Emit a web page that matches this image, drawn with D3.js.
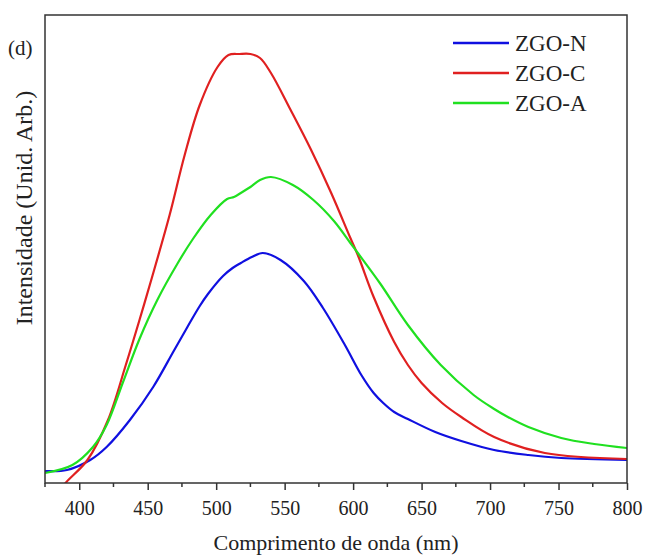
<!DOCTYPE html>
<html>
<head>
<meta charset="utf-8">
<script src="https://cdn.jsdelivr.net/npm/d3@7"></script>
<style>
  body { margin: 0; background: #fff; }
  text { font-family: "Liberation Serif", "Times New Roman", serif; fill: #222; }
</style>
</head>
<body>
<script>
// wavelength (nm) / intensity (arb. units)
const wlN = [375, 391, 408, 420, 437, 454, 469, 479, 488, 494, 505, 512, 518, 526, 534, 547, 564, 578, 594, 606, 615, 622, 630, 640, 660, 679, 703, 728, 752, 800];
const ZGO_N = [12, 13, 23, 36, 63, 96, 132, 156, 177, 189, 207, 215, 220, 226, 230, 223, 202, 175, 138, 108, 90, 80, 71, 64, 51, 42, 33, 28, 25, 23];

const wlC = [386, 390, 406, 421, 434, 444, 453, 466, 477, 488, 501, 509, 517, 525, 532, 540, 554, 569, 584, 598, 604, 615, 630, 640, 650, 665, 679, 703, 740, 800];
const ZGO_C = [-8, 0, 23, 63, 118, 163, 205, 268, 328, 378, 416, 428, 429, 429, 425, 410, 374, 334, 290, 245, 226, 186, 141, 118, 100, 80, 66, 46, 30, 24];

const wlA = [375, 395, 410, 420, 432, 444, 457, 472, 483, 496, 508, 513, 518, 525, 532, 540, 556, 571, 586, 598, 604, 620, 640, 664, 688, 703, 713, 728, 752, 776, 800];
const ZGO_A = [10, 18, 36, 58, 101, 144, 183, 220, 244, 268, 284, 286, 290, 296, 303, 306, 298, 283, 262, 240, 229, 199, 158, 118, 88, 74, 66, 56, 45, 39, 35];

const seriesNames = ["ZGO-N", "ZGO-C", "ZGO-A"];
const colors = ["#1010e0", "#e02020", "#20e020"];
const xTicks = [400, 450, 500, 550, 600, 650, 700, 750, 800];

const W = 646, H = 557;
const m = { left: 45, right: 19, top: 15, bottom: 74 };
const svg = d3.select("body").append("svg").attr("width", W).attr("height", H);

const x = d3.scaleLinear().domain([375, 800]).range([m.left, W - m.right]);
const y = d3.scaleLinear().domain([0, 468]).range([H - m.bottom, m.top]);

svg.append("clipPath").attr("id", "clip").append("rect")
    .attr("x", m.left).attr("y", m.top)
    .attr("width", W - m.left - m.right).attr("height", H - m.top - m.bottom);

const line = d3.line().x(d => x(d[0])).y(d => y(d[1])).curve(d3.curveCatmullRom.alpha(0.5));

const series = [
    d3.zip(wlN, ZGO_N),
    d3.zip(wlC, ZGO_C),
    d3.zip(wlA, ZGO_A)
];

const g = svg.append("g").attr("clip-path", "url(#clip)");
series.forEach((s, i) => {
    g.append("path").datum(s)
        .attr("d", line)
        .attr("fill", "none")
        .attr("stroke", colors[i])
        .attr("stroke-width", 2.2);
});

// frame
svg.append("rect")
    .attr("x", m.left).attr("y", m.top)
    .attr("width", W - m.left - m.right).attr("height", H - m.top - m.bottom)
    .attr("fill", "none").attr("stroke", "#333").attr("stroke-width", 1.5);

// bottom axis: major + minor ticks
const xAxis = svg.append("g").attr("transform", `translate(0,${H - m.bottom})`)
    .call(d3.axisBottom(x).tickValues(xTicks).tickSize(7).tickPadding(11).tickFormat(d3.format("d")));
xAxis.select(".domain").remove();
xAxis.selectAll("line").attr("stroke", "#333").attr("stroke-width", 1.5);
xAxis.selectAll("text").style("font-size", "20px").attr("fill", "#222")
    .style("font-family", "'Liberation Serif', serif");

const minor = d3.range(375, 800, 50);
svg.append("g").selectAll("line").data(minor).join("line")
    .attr("x1", d => x(d)).attr("x2", d => x(d))
    .attr("y1", H - m.bottom).attr("y2", H - m.bottom + 4)
    .attr("stroke", "#333").attr("stroke-width", 1.5);

// axis titles
svg.append("text")
    .attr("x", x(587.5)).attr("y", 550)
    .attr("text-anchor", "middle")
    .style("font-size", "22px")
    .text("Comprimento de onda (nm)");

svg.append("text")
    .attr("transform", "translate(32,208) rotate(-90)")
    .attr("text-anchor", "middle")
    .style("font-size", "24px")
    .text("Intensidade (Unid. Arb.)");

svg.append("text")
    .attr("x", 8).attr("y", 55)
    .style("font-size", "21px")
    .text("(d)");

// legend
const leg = svg.append("g");
seriesNames.forEach((name, i) => {
    const ly = 43 + i * 30;
    leg.append("line")
        .attr("x1", 453).attr("x2", 509).attr("y1", ly).attr("y2", ly)
        .attr("stroke", colors[i]).attr("stroke-width", 2.5);
    leg.append("text")
        .attr("x", 515).attr("y", ly + 8)
        .style("font-size", "23px")
        .text(name);
});
</script>
</body>
</html>
